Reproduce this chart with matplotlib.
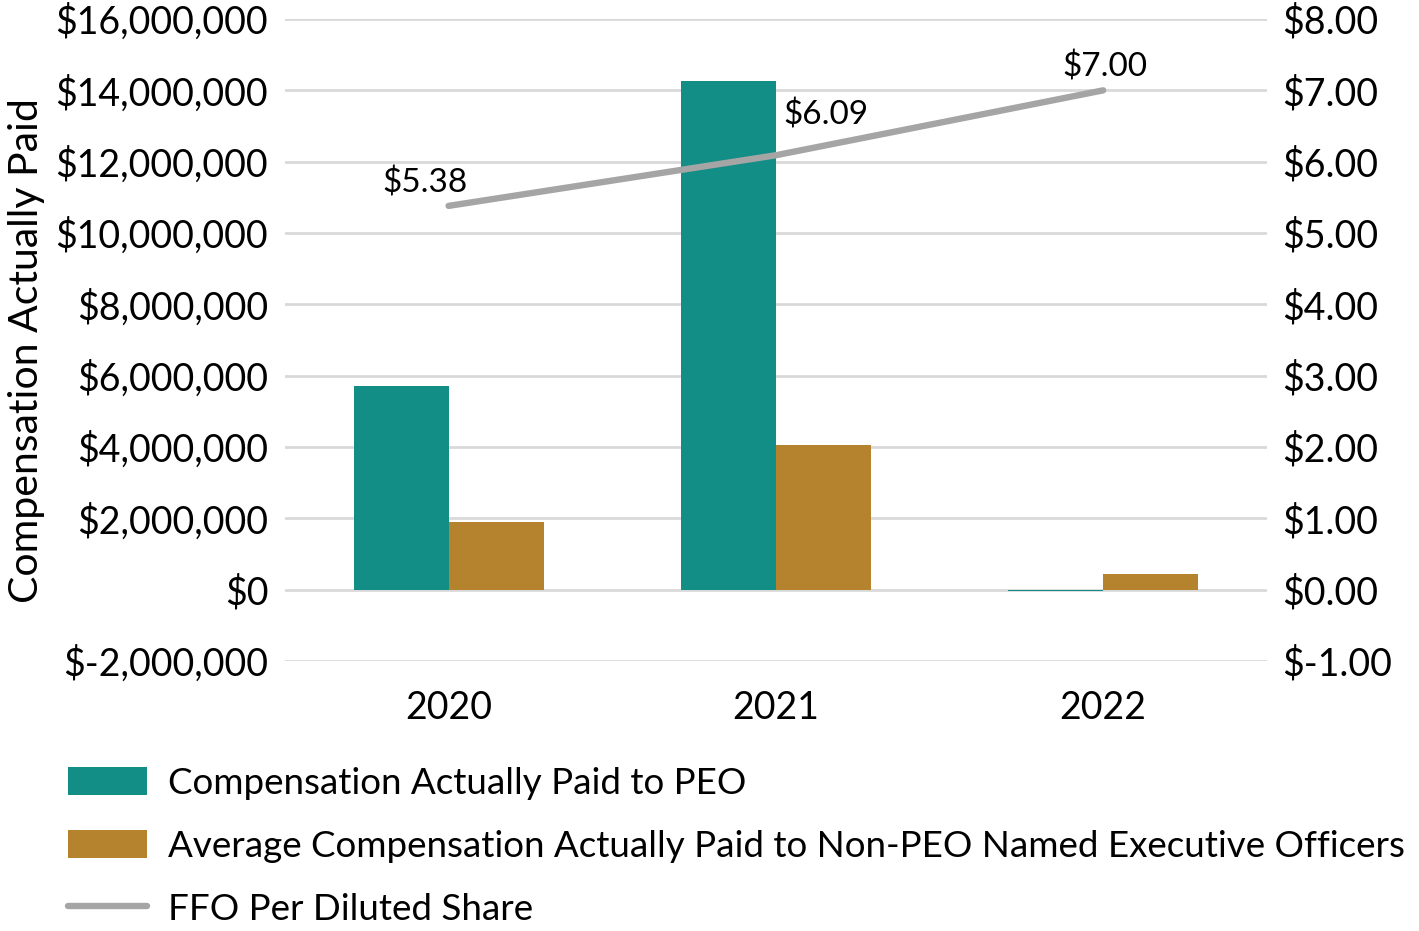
import matplotlib
matplotlib.use("Agg")
import matplotlib.pyplot as plt
from matplotlib.patches import Patch
from matplotlib.lines import Line2D
import numpy as np

plt.rcParams['font.family'] = ['Lato', 'DejaVu Sans']

years = ["2020", "2021", "2022"]
peo_cap = [5700000, 14250000, -50000]
non_peo_cap = [1900000, 4050000, 450000]
ffo_per_share = [5.38, 6.09, 7.00]
ffo_labels = ["$5.38", "$6.09", "$7.00"]
left_ticks = [-2000000, 0, 2000000, 4000000, 6000000, 8000000, 10000000, 12000000, 14000000, 16000000]
right_ticks = [-1, 0, 1, 2, 3, 4, 5, 6, 7, 8]
legend_labels = ["Compensation Actually Paid to PEO",
                 "Average Compensation Actually Paid to Non-PEO Named Executive Officers",
                 "FFO Per Diluted Share"]

teal = "#128E87"
gold = "#B5822E"
grey = "#A5A5A5"

fig = plt.figure(figsize=(14.19, 9.31), dpi=100)
ax = fig.add_axes([0.2008, 0.290, 0.692, 0.6896])
ax2 = ax.twinx()

x = np.arange(len(years))
w = 0.29
ax.bar(x - w/2, peo_cap, width=w, color=teal, zorder=3)
ax.bar(x + w/2, non_peo_cap, width=w, color=gold, zorder=3)

ax.set_xlim(-0.5, 2.5)
ax.set_ylim(-2000000, 16000000)
ax.set_yticks(left_ticks)
ax.set_yticklabels([f"${v:,.0f}" if v >= 0 else f"$-{abs(v):,.0f}" for v in left_ticks])
ax.set_xticks(x)
ax.set_xticklabels(years)
ax.grid(axis='y', color='#D9D9D9', linewidth=2, zorder=0)
ax.set_axisbelow(True)
ax.tick_params(axis='y', length=0, pad=12, labelsize=27)
ax.tick_params(axis='x', length=0, pad=21, labelsize=27)
for s in ax.spines.values():
    s.set_visible(False)

ax2.plot(x, ffo_per_share, color=grey, linewidth=4.6, solid_capstyle='round', zorder=4)
ax2.set_ylim(-1, 8)
ax2.set_yticks(right_ticks)
ax2.set_yticklabels([f"${v:.2f}" if v >= 0 else f"$-{abs(v):.2f}" for v in right_ticks])
ax2.tick_params(axis='y', length=0, pad=11, labelsize=27)
for s in ax2.spines.values():
    s.set_visible(False)

offsets = [(-17, 16.5), (36, 29), (1.5, 17)]
for xi, v, lab, off in zip(x, ffo_per_share, ffo_labels, offsets):
    ax2.annotate(lab, (xi, v), xytext=off, textcoords='offset points',
                 ha='center', va='center', fontsize=24)

fig.text(0.0185, 0.623, "Compensation Actually Paid", rotation=90,
         ha='center', va='center', fontsize=29.5)

handles = [Patch(facecolor=teal), Patch(facecolor=gold),
           Line2D([0], [0], color=grey, linewidth=4.6, solid_capstyle='round')]
fig.legend(handles, legend_labels, loc='upper left', bbox_to_anchor=(0.048, 0.176),
           frameon=False, fontsize=26.5, handlelength=2.14, handleheight=0.78,
           handletextpad=0.57, labelspacing=0.81, borderaxespad=0, borderpad=0)

fig.savefig("out.png", dpi=100)
